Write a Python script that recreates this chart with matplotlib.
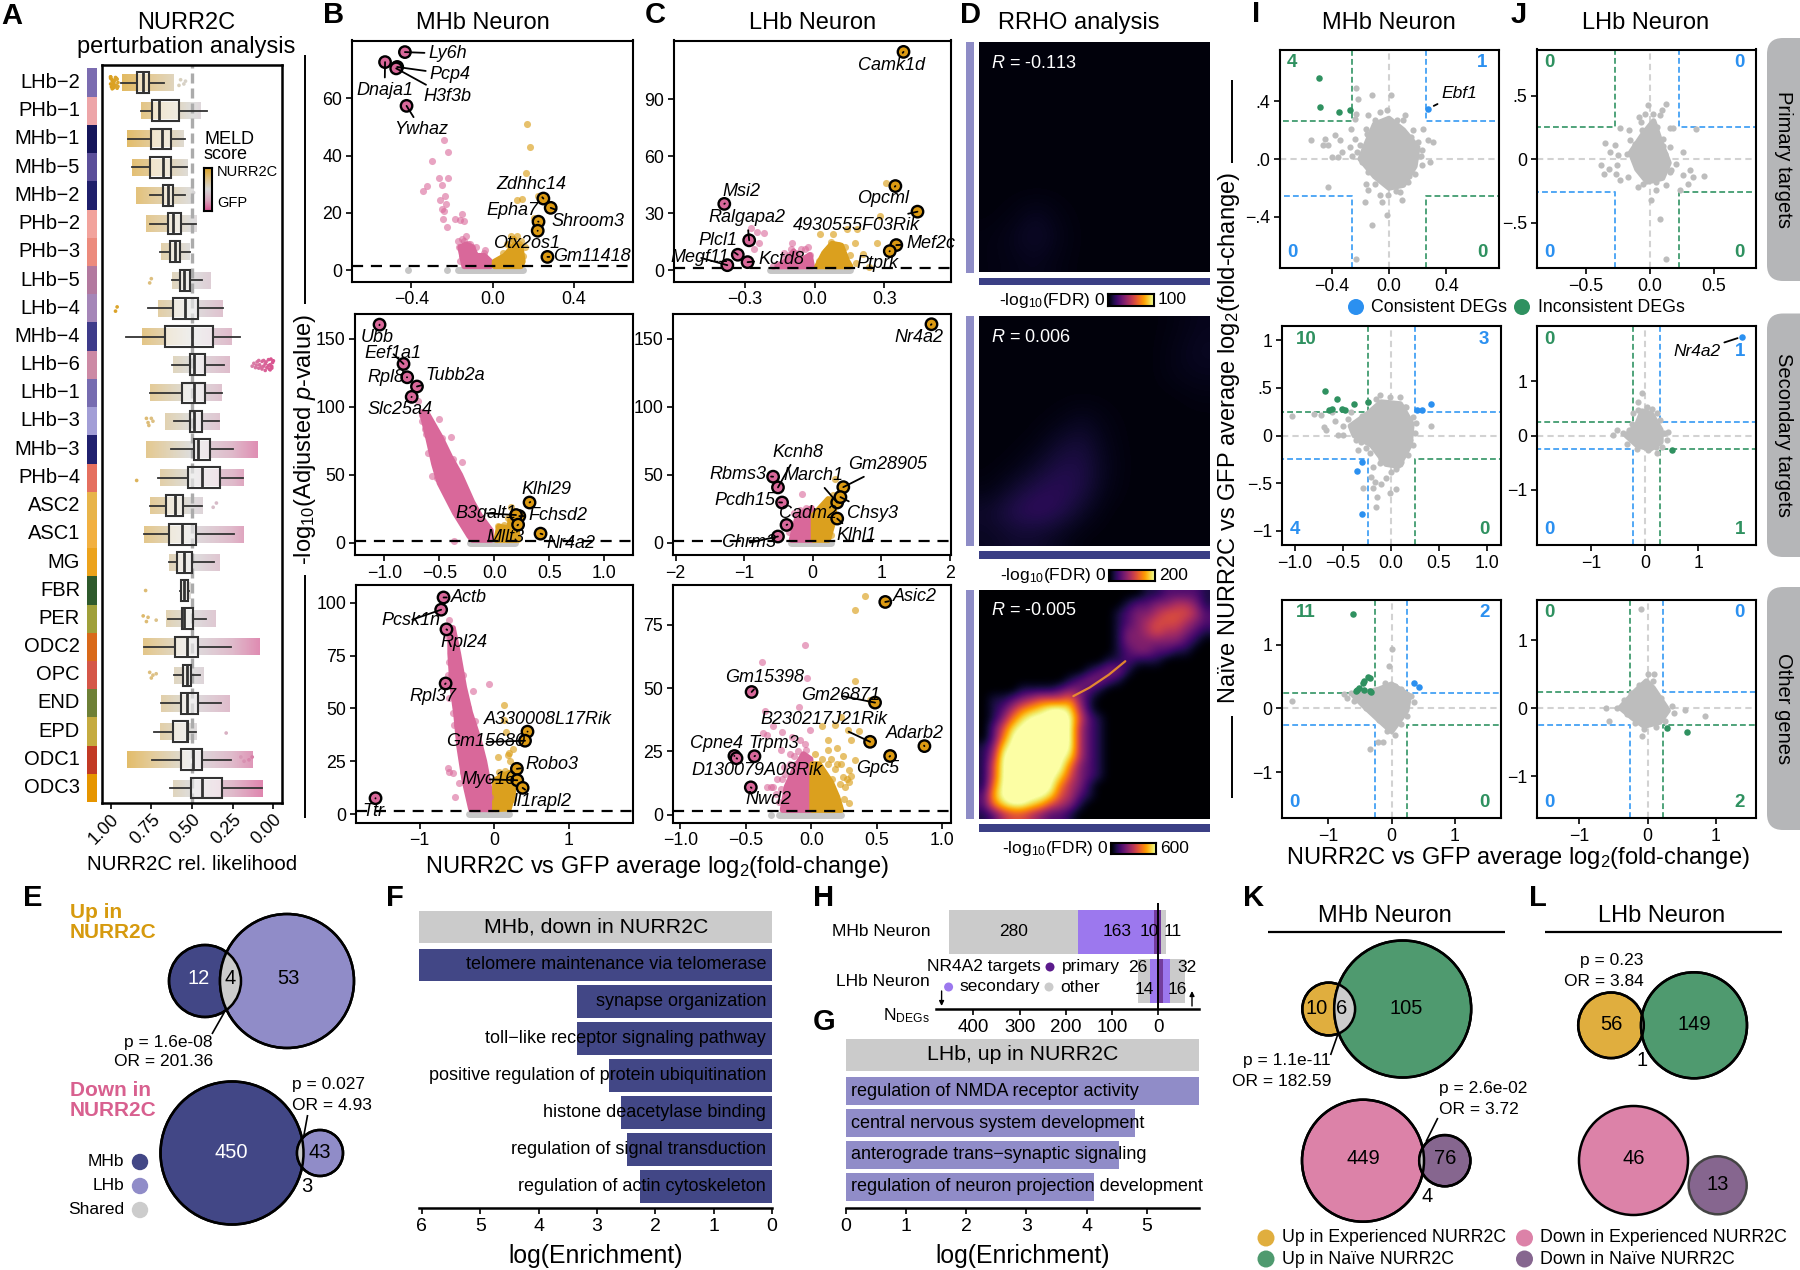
import numpy as np
import matplotlib
matplotlib.use('Agg')
import matplotlib.pyplot as plt
from matplotlib.colors import LinearSegmentedColormap
from matplotlib.patches import Circle, Rectangle, FancyBboxPatch, Polygon

plt.rcParams['font.family'] = ['Liberation Sans', 'DejaVu Sans']
plt.rcParams['mathtext.fontset'] = 'custom'
plt.rcParams['mathtext.rm'] = 'Liberation Sans'
plt.rcParams['mathtext.it'] = 'Liberation Sans:italic'
plt.rcParams['mathtext.bf'] = 'Liberation Sans:bold'
plt.rcParams['axes.linewidth'] = 1.5

# ------------------ DATA: panel A ------------------
a_types = ['LHb−2','PHb−1','MHb−1','MHb−5','MHb−2','PHb−2','PHb−3','LHb−5','LHb−4','MHb−4','LHb−6','LHb−1','LHb−3',
           'MHb−3','PHb−4','ASC2','ASC1','MG','FBR','PER','ODC2','OPC','END','EPD','ODC1','ODC3']
a_colors = ['#7b6cb0','#eda5a8','#15155a','#5b4f9a','#1f1f6b','#f2a39c','#ec8b7d','#b2799f','#a586b8','#3e3b8a','#cc8aa5',
            '#766cb0','#a29ed6','#20206e','#e5705f','#e8b44a','#f2b040','#eca31c','#2f5a2c','#a0a03a','#d9691a','#d55748',
            '#6e8036','#c5ab40','#c23a24','#e69500']
a_q1  = [.839,.743,.753,.759,.678,.647,.633,.573,.614,.667,.510,.563,.514,.490,.522,.657,.641,.592,.567,.561,.602,.555,.565,.618,.565,.504]
a_med = [.804,.702,.684,.678,.647,.618,.606,.549,.541,.498,.490,.488,.488,.461,.439,.606,.561,.547,.549,.549,.533,.533,.531,.529,.492,.437]
a_q3  = [.765,.580,.631,.631,.618,.567,.576,.514,.465,.371,.418,.420,.439,.392,.331,.557,.478,.498,.527,.496,.461,.504,.461,.524,.437,.316]
a_wlo = [.939,.816,.896,.869,.755,.761,.698,.624,.769,.908,.620,.755,.612,.631,.710,.757,.792,.643,.576,.647,.792,.612,.688,.733,.747,.633]
a_whi = [.671,.406,.543,.529,.543,.473,.510,.439,.310,.208,.302,.314,.335,.251,.186,.439,.243,.367,.518,.412,.263,.449,.324,.473,.259,.069]
a_clo = [.93,.816,.898,.869,.845,.784,.688,.624,.708,.810,.616,.755,.665,.780,.698,.757,.792,.643,.576,.657,.800,.612,.688,.698,.898,.616]
a_chi = [.616,.453,.549,.529,.494,.473,.510,.388,.310,.259,.269,.314,.331,.094,.186,.433,.178,.335,.514,.351,.086,.433,.265,.473,.127,.065]
a_sparse_row = [0]*22 + [10]*27 + [8,8,7,7,12,12,12,12,12,14,19,19,19,19,21,21,21,21,18,23,24,24,24,24,4,4,15,15,0,0,0,0]
a_sparse_x = [1.0,.99,.98,.97,.96,1.0,.985,.965,.975,.99,.955,1.0,.995,.985,.975,.965,.96,.97,.98,.99,1.0,.955,
              .13,.12,.11,.1,.09,.085,.07,.06,.05,.045,.04,.03,.025,.02,.015,.01,.005,0.,.09,.07,.05,.03,.02,.01,.06,.105,.075,
              .97,.96,.76,.75,.78,.77,.765,.75,.74,.84,.80,.78,.77,.72,.76,.75,.74,.72,.785,.29,.2,.18,.15,.13,.50,.49,.37,.35,.58,.57,.55,.54]
a_sparse_dy = [-.2,-.1,0,.1,.2,.05,.18,-.15,.12,-.05,.0,-.15,.15,.08,-.08,.1,-.12,-.18,.18,.22,-.2,.14,
               .05,-.05,.1,-.1,.12,0,-.12,.05,.2,-.1,.1,-.18,.15,0,-.2,.12,-.08,-.14,-.15,.15,-.03,.03,.18,.06,-.15,.02,.08,
               .1,-.05,.1,-.05,-.1,.05,.15,-.1,0,.1,-.1,.1,-.05,.05,-.1,.1,0,-.05,0,.05,-.1,.05,0,-.1,.1,-.1,.05,-.1,.1,-.1,.05,-.05]

# ------------------ DATA: volcano panels ------------------
b1_genes = ['Ly6h','Dnaja1','Pcp4','H3f3b','Ywhaz','Zdhhc14','Shroom3','Epha7','Otx2os1','Gm11418']
b1_x = [-.432,-.53,-.47,-.475,-.424,.251,.287,.227,.223,.271]
b1_y = [76.2,72.7,71,70.5,57.4,25,21.75,16.9,13.75,4.6]
b1_px = [-.239,-.219,-.299,-.263,-.221,-.325,-.345,-.247,-.233,-.259,-.229,-.249,-.239,-.183,-.151,-.245,-.159,-.141,-.225,-.17,-.15,-.12,-.1,-.04,
         -.165,-.15,-.13,-.11,-.08,-.05,-.09,-.16,-.035,-.14]
b1_py = [45.6,41.4,38.1,32.25,32.25,29.4,27.75,29.6,26,24.4,23.1,21.25,20.6,17.75,19.6,17.9,17.5,17.1,15,10,11,9,8,6,
         8,5,12,9,8,5,4,3,7,10]
b1_gx = [.169,.187,.163,.122,.147,.223,.207,.12,.14,.08,.1,.05,.07,.1,.13,.15,.16,.09]
b1_gy = [51.1,43,34,24.4,24.75,26,18.1,12,10,9,11,6,9,11,9,5,8,12]
b1_pink_poly = [(-.16,8),(-.13,9),(-.1,8),(-.08,5),(-.04,5),(-.01,3),(-.01,1.3),(-.14,1.3)]
b1_gold_poly = [(.01,1.3),(.01,3),(.06,5),(.11,9),(.14,8),(.15,3),(.14,1.3)]
b1_gray = [-.17,.15]; b1_gray_x = [-.416,-.223]

b2_genes = ['Ubb','Eef1a1','Rpl8','Tubb2a','Slc25a4','Klhl29','Fchsd2','B3galt1','Mllt3','Nr4a2']
b2_x = [-1.044,-.826,-.793,-.704,-.752,.319,.226,.196,.215,.419]
b2_y = [160.5,131.6,121.8,115,107.4,29.7,19.7,20.5,13.4,6.8]
b2_px = [-.396,-.504,-.296,-.563,-.37,-.693,-.655,-.63,-.58,-.55,-.5,-.6,-.55,-.45,-.4,-.52,-.35,-.66,-.62,
         -.66,-.6,-.52,-.47,-.5,-.42,-.45,-.35,-.3,-.28,-.22,-.25,-.14,-.18,-.58,-.48,-.38,-.31]
b2_py = [77.9,91,59.5,49.5,1.3,104,90,84,78,70,65,66,60,55,50,48,40,94,80,
         96,88,72,62,54,45,38,33,28,40,25,14,16,8,72,77,62,46]
b2_gx = [.152,.03,.17,.12,.06,.09,.14,.2]
b2_gy = [26.3,12.6,22,18,11,13,17,10]
b2_pink_poly = [(-.66,96),(-.6,76),(-.55,58),(-.5,44),(-.36,22),(-.23,5),(-.2,2.1),(-.03,2.1),(-.03,9),(-.13,20),(-.2,30),(-.31,50),(-.4,63),(-.49,78),(-.61,95)]
b2_gold_poly = [(.015,2.1),(.04,12),(.13,11),(.16,21),(.17,22),(.2,11),(.22,2.1)]
b2_gray = [-.22,.19]; b2_gray_x = []

b3_genes = ['Actb','Pcsk1n','Rpl24','Rpl37','A330008L17Rik','Gm15680','Robo3','Myo16','Il1rapl2','Ttr']
b3_x = [-.678,-.71,-.639,-.65,.448,.415,.306,.311,.383,-1.59]
b3_y = [102.5,96.7,87.4,61.8,39,34.7,21.4,16,12.4,7.5]
b3_px = [-.607,-.56,-.56,-.52,-.5,-.58,-.42,-.071,-.284,-.525,-.617,-.552,-.47,-.35,-.3,-.6,-.54,-.47,-.38,-.25,-.2,
         -.62,-.58,-.6,-.55,-.62,-.5,-.6,-.47,-.55,-.37,-.5,-.32,-.47,-.27,-.44,-.22,-.42,-.15,-.37,-.1,-.3,-.06]
b3_py = [92,88,76,72,66,66,66,61.5,58,8.3,21.9,19.5,14.5,50,30,20,42,60,53,44,30,
         84,80,72,68,66,60,55,52,48,46,42,40,35,33,28,28,20,20,12,14,6,8]
b3_gx = [.137,.131,.164,.049,.2,.25,.22,.18,.28,.1,.06,.3,.26,.15]
b3_gy = [51.7,44.7,38.7,27,29,31,25,28,23,19,20,14,7,20.5]
b3_pink_poly = [(-.59,88),(-.59,76),(-.56,60),(-.51,47),(-.47,32),(-.4,16),(-.31,2.2),(-.01,2.2),(-.05,10),(-.13,25),(-.21,36),(-.32,48),(-.4,60),(-.48,76),(-.55,88)]
b3_gold_poly = [(.01,2.2),(.01,16),(.1,18),(.24,20),(.26,10),(.2,2.5)]
b3_gray = [-.34,.2]; b3_gray_x = []

c1_genes = ['Camk1d','Opcml','Msi2','Ralgapa2','Plcl1','Megf11','Kctd8','4930555F03Rik','Mef2c','Ptprk']
c1_x = [.382,.347,-.388,-.281,-.33,-.375,-.288,.442,.351,.323]
c1_y = [115,44.3,34.9,15.7,8.1,2.6,4.2,30.8,13.2,10]
c1_px = [-.275,-.246,-.216,-.239,-.098,-.028,-.26,-.06,-.13,-.16,-.13,-.1,-.11,-.07,-.04,-.02,-.18]
c1_py = [22,20.2,19.8,14.2,14.2,12.3,11.3,11,9,3,6,11,8,9,11,8,2]
c1_gx = [.305,.282,.267,.025,.081,.139,.182,.174,.209,.235,.02,.05,.07,.1,.13,.15,.18]
c1_gy = [45.8,28.5,14.5,18.9,18.9,21.7,21.7,14.2,8.5,1.9,5,10,15,13,12,8,4]
c1_pink_poly = [(-.16,1.9),(-.12,5),(-.09,10),(-.06,5),(-.02,8),(-.01,1.9)]
c1_gold_poly = [(.01,1.9),(.04,9),(.075,14),(.115,13),(.14,5),(.155,1.9)]
c1_gray = [-.19,.15]; c1_gray_x = []

c2_genes = ['Nr4a2','Kcnh8','Rbms3','March1','Gm28905','Pcdh15','Cadm2','Chsy3','Klhl1','Chrm3']
c2_x = [1.735,-.507,-.578,.358,.447,-.447,-.382,.405,.358,-.507]
c2_y = [160.8,40.8,48.7,29.7,41,29.7,13.2,33.7,17.9,4.7]
c2_px = [-.149,-.33,-.28,-.25,-.34,-.32,-.18,-.1]
c2_py = [36,15,22,12,8,12,24,26]
c2_gx = [.328,.3,.25,.35,.3,.33,.27]
c2_gy = [46.8,35,30,28,25,18,6]
c2_pink_poly = [(-.31,2.1),(-.22,20.5),(-.012,25.8),(-.012,2.1)]
c2_gold_poly = [(.012,2.1),(.012,20.5),(.227,32.4),(.316,31),(.316,17.9),(.227,2.1)]
c2_gray = [-.31,.27]; c2_gray_x = []

c3_genes = ['Asic2','Gm15398','Gm26871','B230217J21Rik','Adarb2','Gpc5','Cpne4','Trpm3','D130079A08Rik','Nwd2']
c3_x = [.565,-.456,.487,.449,.864,.602,-.587,-.434,-.571,-.462]
c3_y = [84.1,48.5,44.3,28.8,27.1,23.2,23.2,23.1,22.3,10.8]
c3_px = [-.05,-.374,-.031,-.097,-.368,-.337,-.29,-.222,-.228,-.134,-.306,-.337,-.041,-.009,-.353,-.15,-.087,
         -.25,-.23,-.2,-.16,-.1,-.05,-.27,-.29,-.22,-.17,-.12,-.26,-.21,-.16]
c3_py = [67.1,60.4,54.2,42.5,32.2,31.6,34.9,32.5,25.6,23,11.1,11.1,25.6,33.6,40.8,30.9,29.6,
         5,10,16,20,25,28,8,11,14,12,20,14,19,24]
c3_gx = [.412,.337,.337,.449,.084,.125,.125,.193,.24,.303,.334,.225,.178,.281,.365,.287,.303,.287,.209,.069,
         .03,.08,.13,.18,.22,.25,.24,.15,.2,.27,.23,.26,.29,.16]
c3_gy = [86.4,81.1,52.7,45.4,34.9,29.6,25.6,26.3,23,29.6,21.7,38.8,35.5,33.6,32.9,17.7,15.1,4.5,3.2,15.1,
         24,22,20,18,12,6,15,22,20,14,20,11,13,14]
c3_pink_poly = [(-.22,1.8),(-.19,11),(-.13,18),(-.06,24),(-.005,22),(-.005,1.8)]
c3_gold_poly = [(.006,1.8),(.006,20),(.06,20),(.15,13),(.2,7),(.23,1.8)]
c3_gray = [-.25,.23]; c3_gray_x = [-.306]

# ------------------ DATA: RRHO grids ------------------
d1_grid = [[.02]*10 for _ in range(7)] + [
    [.02,.03,.06,.03,.02,.02,.02,.02,.02,.02],
    [.03,.05,.08,.04,.02,.02,.02,.02,.02,.02],
    [.03,.04,.05,.03,.02,.02,.02,.02,.02,.02]]
d2_grid = [
    [.02,.02,.02,.02,.02,.02,.02,.02,.03,.05],
    [.02,.02,.02,.02,.02,.02,.02,.02,.04,.06],
    [.02,.02,.02,.02,.02,.02,.02,.02,.04,.05],
    [.02,.02,.02,.02,.02,.02,.02,.02,.02,.03],
    [.02,.02,.02,.03,.06,.03,.02,.02,.02,.02],
    [.02,.02,.03,.08,.10,.04,.02,.02,.02,.02],
    [.02,.03,.07,.12,.12,.05,.02,.02,.02,.02],
    [.03,.08,.13,.15,.12,.04,.02,.02,.02,.02],
    [.08,.14,.17,.14,.07,.02,.02,.02,.02,.02],
    [.06,.08,.08,.05,.02,.02,.02,.02,.02,.02]]
d3_rows = ['000000000000000001122221','000000000000000122334431','000000000000001233455542','000000000000001234555432',
           '000000000000001334544321','000000000000001333333210','000000000000001233221100','000000000000011211100000',
           '000000000001233100000000','000000000123321000000000','000011112332100000000000','011234555631',
           '012467899841','0136899999521','0258999999421','0269999999421','1389999999421','1499999998421',
           '1599999996321','1599999985321','1699999964310','279999985421','26899875431','12455432210']
d3_ridge_c = [9.3, 11.0, 13.0, 14.7]
d3_ridge_r = [10.65, 9.75, 8.4, 7.0]

# ------------------ DATA: I/J scatter ------------------
i1_poly = [(-.16,.1),(-.1,.24),(0,.28),(.1,.2),(.2,.08),(.18,-.05),(.1,-.18),(0,-.2),(-.1,-.12),(-.2,0)]
i1_dots = [(-.063,.325),(-.012,.341),(.053,.267),(.111,.302),(.169,.198),(.234,.21),(.274,.129),(.304,.118),(.227,.06),(.285,-.021),
           (.227,-.044),(.181,-.101),(.135,-.159),(.077,-.228),(.088,-.286),(-.005,-.251),(-.063,-.251),(-.051,-.297),(-.167,-.297),
           (-.144,-.217),(-.16,-.17),(-.144,-.09),(-.19,-.021),(-.26,.018),(-.329,.048),(-.399,.014),(-.353,.014),(-.271,.083),(-.237,.141),
           (-.267,.205),(-.16,.21),(-.144,.302),(-.237,.279),(-.23,.309),(-.341,.129),(-.376,.164),(-.445,.141),(-.457,.094),(-.427,.094),
           (-.545,.129),(-.427,-.194),(-.121,-.459),(-.012,-.389),(-.23,-.689),(-.121,.445),(.012,.445),(-.213,.417),(-.23,.491),
           (.15,.15),(.2,.12),(.1,.27),(-.1,.27),(-.2,.1),(-.22,.05),(-.1,-.17),(.05,-.22),(.14,-.12),(.22,.02),(-.15,.17)]
i1_green = [(-.49,.563),(-.483,.36),(-.347,.322),(-.27,.338)]
i1_blue = [(.268,.346)]
j1_poly = [(-.15,.05),(-.05,.2),(.03,.3),(.08,.15),(.15,-.03),(.1,-.15),(-.02,-.18),(-.1,-.08)]
j1_dots = [(-.013,.423),(.130,.436),(.096,.388),(-.039,.357),(.026,.357),(.078,.344),(-.083,.331),(-.065,.291),(.156,.246),(.182,.246),
           (.365,.239),(-.234,.246),(-.164,.231),(.104,.160),(.156,.094),(.260,.055),(.117,.042),(.208,-.037),(.169,-.089),(.313,-.089),
           (.260,-.129),(.339,-.142),(.424,-.134),(.299,-.194),(.234,-.241),(.130,-.207),(.052,-.247),(.013,-.325),(.083,-.472),(.130,-.787),
           (-.091,-.220),(-.169,-.142),(-.234,-.168),(-.260,-.115),(-.253,-.050),(-.318,-.076),(-.378,-.044),(-.357,-.115),(-.247,.029),
           (-.352,.129),(-.268,.108),(-.313,.055),(-.156,.147),(-.057,.226),(-.117,.121),(.06,.25),(.1,.1),(-.18,.04),(.16,-.1),(-.05,-.2),(.05,-.18)]
j1_green = []; j1_blue = []
i2_poly = [(-.42,.1),(-.25,.22),(-.1,.35),(.1,.33),(.22,.12),(.2,-.1),(.08,-.32),(-.05,-.3),(-.2,-.1),(-.38,0)]
i2_dots = [(-.114,.422),(-.010,.405),(.100,.405),(.163,.300),(.232,.195),(.267,.126),(.423,.098),(.249,.021),(.232,-.101),(.180,-.206),
           (.111,-.276),(.059,-.346),(.007,-.380),(-.045,-.450),(-.097,-.503),(-.166,-.485),(-.201,-.433),(.059,-.562),(-.010,-.607),
           (-.139,-.649),(-.156,-.747),(-.288,-.545),(-.184,-.555),(-.340,-.147),(-.253,-.136),(-.357,-.049),(-.495,.003),(-.547,.003),
           (-.669,.056),(-.700,.091),(-.804,.223),(-1.03,.206),(-.728,.213),(-.607,.248),(-.409,.248),(-.236,.352),(-.149,.387),(-.305,-.066),
           (-.218,-.188),(-.114,-.293),(-.184,-.328),(-.5,.1),(-.45,.17),(-.58,.15),(-.3,.2),(.15,.3),(.2,-.05),(.1,-.3),(-.1,-.25)]
i2_green = [(-.68,.47),(-.56,.38),(-.64,.265),(-.61,.28),(-.51,.275),(-.48,.265),(-.38,.335),(-.24,.35)]
i2_blue = [(.42,.335),(.276,.265),(.32,.265),(-.3,-.276),(-.355,-.376),(-.3,-.82)]
j2_poly = [(-.35,0),(-.15,.2),(-.05,.45),(.12,.4),(.3,.1),(.3,-.12),(.1,-.25),(-.15,-.18)]
j2_dots = [(-.063,.793),(-.125,.621),(-.138,.467),(.031,.529),(.125,.498),(.219,.406),(.281,.283),(.438,.068),(.406,-.086),(.313,-.209),
           (.219,-.32),(.063,-.271),(-.156,-.240),(-.344,-.148),(-.406,.037),(-.531,.098),(-.594,.006),(-.25,.221),(-.219,.406),(-.3,.1),(.35,.05),(.2,-.22)]
j2_green = [(.5,-.26)]; j2_blue = [(1.81,1.82)]
i3_poly = [(-.6,.2),(-.2,.3),(0,.38),(.28,.2),(.24,-.03),(0,-.36),(-.18,-.2),(-.45,.05)]
i3_dots = [(-1.58,.115),(-.04,.67),(0,.93),(-.21,-.52),(-.34,-.63),(-.13,-.52),(-.75,.22),(-.65,.25),(-.55,.2),(-.45,.15),(-.35,.28),(-.1,.4),
           (.05,.35),(.15,.3),(.3,.2),(.35,.1),(.25,-.12),(.15,-.25),(.05,-.42),(-.08,-.35),(-.2,-.18),(-.4,0),(-.6,.12),(-.7,.17)]
i3_green = [(-.61,1.48),(-.38,.49),(-.43,.43),(-.34,.475),(-.45,.405),(-.56,.27),(-.51,.32),(-.43,.29),(-.34,.27),(-.32,.255),(-.54,.29)]
i3_blue = [(.36,.4),(.44,.335)]
j3_poly = [(-.4,.01),(-.18,.25),(-.02,.4),(.08,.3),(.3,-.03),(.18,-.2),(-.05,-.26),(-.22,-.14)]
j3_dots = [(-.1,1.455),(-.57,-.18),(-.61,.01),(.1,.5),(.84,-.115),(.54,-.03),(-.08,-.4),(-.45,0),(-.35,.12),(-.25,.22),(-.12,.35),(0,.5),(.08,.4),
           (.2,.15),(.35,.03),(.38,-.07),(.25,-.18),(.12,-.28),(-.05,-.3),(-.18,-.22),(-.3,-.08)]
j3_green = [(.285,-.29),(.58,-.35)]; j3_blue = []

# ------------------ DATA: enrichment + counts ------------------
f_terms = ['telomere maintenance via telomerase','synapse organization','toll−like receptor signaling pathway',
           'positive regulation of protein ubiquitination','histone deacetylase binding','regulation of signal transduction',
           'regulation of actin cytoskeleton']
f_values = [6.05,3.35,3.35,2.8,2.58,2.48,2.27]
g_terms = ['regulation of NMDA receptor activity','central nervous system development','anterograde trans−synaptic signaling',
           'regulation of neuron projection development']
g_values = [5.87,4.8,4.54,4.13]
h_groups = ['MHb Neuron','LHb Neuron']
h_left_primary = [10,4];  h_left_secondary = [163,14]; h_left_other = [280,26]
h_right_primary = [5,10]; h_right_secondary = [0,16];  h_right_other = [11,32]

# ------------------ layout helpers ------------------
W, H = 1800, 1270
fig = plt.figure(figsize=(18, 12.7), dpi=100)

def box_ax(x0, y0, x1, y1, **kw):
    return fig.add_axes([x0/W, 1-y1/H, (x1-x0)/W, (y1-y0)/H], **kw)

ov = fig.add_axes([0, 0, 1, 1], zorder=20)
ov.set_xlim(0, W); ov.set_ylim(H, 0); ov.axis('off'); ov.patch.set_alpha(0)

def T(x, y, s, size=12.5, ha='center', va='center', **kw):
    return ov.text(x, y, s, fontsize=size, ha=ha, va=va, **kw)

def L(x0, y0, x1, y1, lw=1.4, color='black', **kw):
    ov.plot([x0, x1], [y0, y1], color=color, lw=lw, solid_capstyle='butt', **kw)

PINK, GOLD, GRAY = '#D9689A', '#DBA01E', '#C6C6C6'
for s, x, y in [('A',12,16),('B',334,15),('C',655,15),('D',970,15),('I',1256,14),('J',1519,15),
                ('E',33,898),('F',395,898),('H',824,898),('G',824,1022),('K',1254,898),('L',1538,898)]:
    T(x, y, s, size=21, fontweight='bold')

# ------------------ Panel A ------------------
meld = LinearSegmentedColormap.from_list('meld', ['#D9528F', '#D8A9BE', '#D6D6D6', '#DDBF80', '#DBA01E'])
ax = box_ax(102, 64.5, 282, 803)
rows = np.arange(len(a_types))
for r, lo, hi in zip(rows, a_clo, a_chi):
    ax.imshow(np.linspace(hi, lo, 128)[None, :], extent=[hi, lo, r+.3, r-.3], cmap=meld, vmin=0, vmax=1,
              aspect='auto', alpha=.8, interpolation='bilinear', zorder=1)
ax.scatter(a_sparse_x, np.array(a_sparse_row)+np.array(a_sparse_dy), c=a_sparse_x, cmap=meld, vmin=0, vmax=1, s=7, linewidths=0, zorder=1)
ax.axvline(.5, color='#ABABAB', lw=2.4, dashes=(3, 1.5), zorder=2)
stats = [dict(q1=a, med=b, q3=c, whislo=d, whishi=e, fliers=[], label=n)
         for a, b, c, d, e, n in zip(a_q1, a_med, a_q3, a_wlo, a_whi, a_types)]
ax.bxp(stats, positions=rows, widths=.74, orientation='horizontal', patch_artist=True, showfliers=False, showcaps=False,
       manage_ticks=False, boxprops=dict(facecolor=(1, 1, 1, .5), edgecolor='#333333', lw=1.5),
       medianprops=dict(color='#333333', lw=2), whiskerprops=dict(color='#333333', lw=1.3), zorder=3)
ax.set_xlim(1.053, -.053); ax.set_ylim(25.53, -.64)
ax.set_xticks([1, .75, .5, .25, 0]); ax.set_xticklabels(['1.00', '0.75', '0.50', '0.25', '0.00'], rotation=45, ha='right',
                                                        rotation_mode='anchor', fontsize=13)
ax.set_yticks([]); ax.tick_params(axis='x', length=4, width=1.2, pad=2)
for sp in ax.spines.values(): sp.set_linewidth(1.8)
strip = box_ax(87, 64.5, 97, 803)
strip.barh(rows, [1]*len(rows), height=1, color=a_colors, left=0)
strip.set_ylim(25.53, -.64); strip.set_xlim(0, 1); strip.axis('off')
for r, n in zip(rows, a_types):
    T(80, 82.6+28.2*r, n, size=14.5, ha='right')
T(186, 23, 'NURR2C', size=17); T(186, 47, 'perturbation analysis', size=17)
T(192, 865, 'NURR2C rel. likelihood', size=14.8)
T(204, 139, 'MELD', size=13, ha='left'); T(204, 154.5, 'score', size=13, ha='left')
T(217, 172, 'NURR2C', size=10.5, ha='left'); T(217, 203, 'GFP', size=10.5, ha='left')
cb = box_ax(204, 167.5, 212, 210.7)
cb.imshow(np.linspace(1, 0, 128)[:, None], cmap=meld, aspect='auto'); cb.set_xticks([]); cb.set_yticks([])

# ------------------ Panels B, C ------------------
def volcano(box, xlim, ylim, xt, xtl, yt, genes, gx, gy, lab_pos, px, py, ax_g, ay_g, ppoly, gpoly, gray, grayx):
    ax = box_ax(*box)
    ax.plot(gray, [0, 0], color=GRAY, lw=5, solid_capstyle='round', zorder=1)
    if grayx:
        ax.scatter(grayx, [0]*len(grayx), s=25, color=GRAY, zorder=1, linewidths=0)
    ax.add_patch(Polygon(ppoly, closed=True, fc=PINK, ec=PINK, lw=4, joinstyle='round', zorder=2))
    ax.add_patch(Polygon(gpoly, closed=True, fc=GOLD, ec=GOLD, lw=4, joinstyle='round', zorder=2))
    ax.scatter(px, py, s=26, color=PINK, alpha=.6, linewidths=0, zorder=3)
    ax.scatter(ax_g, ay_g, s=26, color=GOLD, alpha=.65, linewidths=0, zorder=3)
    ax.axhline(1.3, color='black', lw=1.6, dashes=(5, 3.5), zorder=4)
    cols = [PINK if v < 0 else '#DC9A12' for v in gx]
    ax.scatter(gx, gy, s=68, c=cols, edgecolors='black', linewidths=1.7, zorder=5)
    for n, x, y, (tx, ty, ha) in zip(genes, gx, gy, lab_pos):
        ax.annotate(n, xy=(x, y), xytext=(tx, ty), ha=ha, va='center', fontsize=13, style='italic', zorder=6,
                    annotation_clip=False,
                    arrowprops=dict(arrowstyle='-', lw=1.3, color='black', shrinkA=1, shrinkB=0))
    ax.set_xlim(*xlim); ax.set_ylim(*ylim)
    ax.set_xticks(xt); ax.set_xticklabels(xtl); ax.set_yticks(yt)
    ax.tick_params(labelsize=12.8, length=4, width=1.2, pad=3)
    return ax

volcano((352,40.5,633,281.5), (-.693,.693), (-4,80.25), [-.4,0,.4], ['−0.4','0.0','0.4'], [0,20,40,60],
        b1_genes, b1_x, b1_y,
        [(-.315,75.6,'left'),(-.532,62.9,'center'),(-.309,68.4,'left'),(-.339,60.6,'left'),(-.351,49.1,'center'),
         (.193,29.75,'center'),(.291,16.9,'left'),(.096,20.9,'center'),(.167,9.4,'center'),(.301,4.6,'left')],
        b1_px, b1_py, b1_gx, b1_gy, b1_pink_poly, b1_gold_poly, b1_gray, b1_gray_x)
volcano((355,313.5,633,555), (-1.267,1.259), (-8.9,168.7), [-1,-.5,0,.5,1], ['−1.0','−0.5','0.0','0.5','1.0'], [0,50,100,150],
        b2_genes, b2_x, b2_y,
        [(-1.063,150.8,'center'),(-.926,139.5,'center'),(-.989,121.8,'center'),(-.626,123,'left'),(-.859,98.2,'center'),
         (.474,39,'center'),(.307,20,'left'),(-.081,21.8,'center'),(.096,3.9,'center'),(.696,-.5,'center')],
        b2_px, b2_py, b2_gx, b2_gy, b2_pink_poly, b2_gold_poly, b2_gray, b2_gray_x)
volcano((356,585,633,822.5), (-1.852,1.863), (-4,108.4), [-1,0,1], ['−1','0','1'], [0,25,50,75,100],
        b3_genes, b3_x, b3_y,
        [(-.579,102.5,'left'),(-1.115,91.8,'center'),(-.41,81.4,'center'),(-.814,55.7,'center'),(.721,44.7,'center'),
         (-.115,34.1,'center'),(.415,23.4,'left'),(-.077,16.4,'center'),(.639,5.8,'center'),(-1.617,1.4,'center')],
        b3_px, b3_py, b3_gx, b3_gy, b3_pink_poly, b3_gold_poly, b3_gray, b3_gray_x)
volcano((674,40.5,951,281.5), (-.604,.586), (-6,121), [-.3,0,.3], ['−0.3','0.0','0.3'], [0,30,60,90],
        c1_genes, c1_x, c1_y,
        [(.332,108,'center'),(.296,37.5,'center'),(-.316,41.5,'center'),(-.291,27.7,'center'),(-.414,15.7,'center'),
         (-.493,6.6,'center'),(-.242,5.7,'left'),(.179,23.6,'center'),(.393,13.8,'left'),(.27,3.4,'center')],
        c1_px, c1_py, c1_gx, c1_gy, c1_pink_poly, c1_gold_poly, c1_gray, c1_gray_x)
volcano((673,313.5,951,555), (-2.04,2.02), (-8.9,168.7), [-2,-1,0,1,2], ['−2','−1','0','1','2'], [0,50,100,150],
        c2_genes, c2_x, c2_y,
        [(1.556,151.3,'center'),(-.221,66.6,'center'),(-1.085,50,'center'),(.018,49.5,'center'),(1.091,57.4,'center'),
         (-.996,31,'center'),(-.072,21.8,'center'),(.495,21.8,'left'),(.632,5.5,'center'),(-.936,0,'center')],
        c2_px, c2_py, c2_gx, c2_gy, c2_pink_poly, c2_gold_poly, c2_gray, c2_gray_x)
volcano((672.5,585,951,822.5), (-1.06,1.067), (-3.1,90.8), [-1,-.5,0,.5,1], ['−1.0','−0.5','0.0','0.5','1.0'], [0,25,50,75],
        c3_genes, c3_x, c3_y,
        [(.624,86.4,'left'),(-.353,54.4,'center'),(.225,47,'center'),(.094,37.5,'center'),(.793,32.2,'center'),
         (.505,18.1,'center'),(-.727,28,'center'),(-.284,28,'center'),(-.415,17.4,'center'),(-.331,5.8,'center')],
        c3_px, c3_py, c3_gx, c3_gy, c3_pink_poly, c3_gold_poly, c3_gray, c3_gray_x)

T(483, 23, 'MHb Neuron', size=17); T(813, 23, 'LHb Neuron', size=17)
T(657, 867, 'NURR2C vs GFP average log$_2$(fold-change)', size=17)
T(305, 439, r'-log$_{10}$(Adjusted $\it{p}$-value)', size=17, rotation=90)
L(305, 55, 305, 304); L(305, 575, 305, 818)

# ------------------ Panel D ------------------
d3_grid = [[int(c) for c in row.ljust(24, '0')] for row in d3_rows]
d_boxes = [(979,42,1210,272.5),(979,316,1210,546),(979,589.5,1210,819)]
d_data = [(d1_grid,1.0),(d2_grid,1.0),(d3_grid,8.6)]
d_r = ['-0.113','0.006','-0.005']
d_max = ['100','200','600']
d_cb = [(1108,294.4,1154,305.6),(1109,570,1155,580.5),(1111,843,1156,854)]
for i, (box, (g, vm), r, mx, cbx) in enumerate(zip(d_boxes, d_data, d_r, d_max, d_cb)):
    a = box_ax(*box)
    a.imshow(np.array(g, float), cmap='inferno', vmin=0, vmax=vm, aspect='auto', interpolation='bicubic')
    if i == 2:
        a.plot(d3_ridge_c, d3_ridge_r, color='#F2952B', lw=1.6, alpha=.9, solid_capstyle='round')
    a.axis('off')
    ov.add_patch(Rectangle((966, box[1]), 7.5, box[3]-box[1], fc='#8E8CC6', ec='none'))
    ov.add_patch(Rectangle((box[0], box[3]+5), box[2]-box[0], 7.5, fc='#3B3F85', ec='none'))
    T(991, box[1]+21, r'$\it{R}$ = '+r, size=13, color='white', ha='left')
    c = box_ax(*cbx)
    c.imshow(np.linspace(0, 1, 128)[None, :], cmap='inferno', aspect='auto'); c.set_xticks([]); c.set_yticks([])
    T(cbx[0]-3, (cbx[1]+cbx[3])/2, '-log$_{10}$(FDR) 0', size=12.5, ha='right')
    T(cbx[2]+4, (cbx[1]+cbx[3])/2, mx, size=12.5, ha='left')
T(1079, 23, 'RRHO analysis', size=17)

# ------------------ Panels I, J ------------------
BLUE, GREEN = '#2B90F0', '#2F9160'
def quad(box, xlim, ylim, xt, xtl, yt, ytl, th, poly, dots, green, blue, counts):
    ax = box_ax(*box)
    xl, xr, yb, yt_ = th
    ax.axhline(0, color='#D2D2D2', lw=1.5, dashes=(3, 2), zorder=1)
    ax.axvline(0, color='#D2D2D2', lw=1.5, dashes=(3, 2), zorder=1)
    kw = dict(lw=1.4, dashes=(3, 1.6), zorder=2)
    ax.plot([xl, xl, xlim[0]], [ylim[1], yt_, yt_], color='#4FA37A', **kw)
    ax.plot([xr, xr, xlim[1]], [ylim[0], yb, yb], color='#4FA37A', **kw)
    ax.plot([xr, xr, xlim[1]], [ylim[1], yt_, yt_], color='#52A8F5', **kw)
    ax.plot([xl, xl, xlim[0]], [ylim[0], yb, yb], color='#52A8F5', **kw)
    ax.add_patch(Polygon(poly, closed=True, fc='#BDBDBD', ec='#BDBDBD', lw=4, joinstyle='round', zorder=3))
    ax.scatter(*zip(*dots), s=20, color='#BDBDBD', linewidths=0, zorder=3)
    if green: ax.scatter(*zip(*green), s=22, color=GREEN, linewidths=0, zorder=4)
    if blue: ax.scatter(*zip(*blue), s=22, color=BLUE, linewidths=0, zorder=4)
    ax.set_xlim(*xlim); ax.set_ylim(*ylim)
    ax.set_xticks(xt); ax.set_xticklabels(xtl); ax.set_yticks(yt); ax.set_yticklabels(ytl)
    ax.tick_params(labelsize=12.8, length=4, width=1.2, pad=3)
    tl, tr, bl, br = counts
    bf = dict(fontsize=13.5, fontweight='bold', transform=ax.transAxes, ha='center', va='center')
    ax.text(.11 if len(tl) > 1 else .057, .94, tl, color=GREEN, **bf)
    ax.text(.925, .94, tr, color=BLUE, **bf)
    ax.text(.057, .07, bl, color=BLUE, **bf)
    ax.text(.925, .07, br, color=GREEN, **bf)
    return ax

a = quad((1279.5,49.5,1498.5,268), (-.762,.762), (-.753,.757), [-.4,0,.4], ['−0.4','0.0','0.4'], [-.4,0,.4], ['−.4','.0','.4'],
     (-.26,.257,-.252,.26), i1_poly, i1_dots, i1_green, i1_blue, ('4','1','0','0'))
a.annotate('Ebf1', xy=i1_blue[0], xytext=(.49,.455), ha='center', va='center', fontsize=12.5, style='italic', zorder=6,
           arrowprops=dict(arrowstyle='-', lw=1.3, shrinkA=1, shrinkB=5))
quad((1537,49.5,1756,268), (-.881,.83), (-.858,.863), [-.5,0,.5], ['−0.5','0.0','0.5'], [-.5,0,.5], ['−.5','0','.5'],
     (-.275,.229,-.257,.252), j1_poly, j1_dots, j1_green, j1_blue, ('0','0','0','0'))
quad((1282,326,1500.7,545), (-1.132,1.144), (-1.147,1.147), [-1,-.5,0,.5,1], ['−1.0','−0.5','0.0','0.5','1.0'],
     [-1,-.5,0,.5,1], ['−1','−.5','0','.5','1'], (-.242,.254,-.25,.25), i2_poly, i2_dots, i2_green, i2_blue, ('10','3','4','0'))
a = quad((1537,326,1756,545), (-2.02,2.08), (-2.02,2.02), [-1,0,1], ['−1','0','1'], [-1,0,1], ['−1','0','1'],
     (-.223,.284,-.25,.25), j2_poly, j2_dots, j2_green, j2_blue, ('0','','0','1'))
a.text(.925, .885, '1', color=BLUE, fontsize=13.5, fontweight='bold', transform=a.transAxes, ha='center', va='center')
a.annotate('Nr4a2', xy=j2_blue[0], xytext=(.97,1.55), ha='center', va='center', fontsize=12.5, style='italic', zorder=6,
           arrowprops=dict(arrowstyle='-', lw=1.3, shrinkA=1, shrinkB=3))
quad((1282,599.5,1500.7,818), (-1.735,1.727), (-1.718,1.709), [-1,0,1], ['−1','0','1'], [-1,0,1], ['−1','0','1'],
     (-.256,.239,-.255,.247), i3_poly, i3_dots, i3_green, i3_blue, ('11','2','0','0'))
quad((1537,599.5,1756,818), (-1.62,1.587), (-1.61,1.60), [-1,0,1], ['−1','0','1'], [-1,0,1], ['−1','0','1'],
     (-.262,.23,-.24,.24), j3_poly, j3_dots, j3_green, j3_blue, ('0','0','0','2'))
T(1389, 23, 'MHb Neuron', size=17); T(1646, 23, 'LHb Neuron', size=17)
T(1518, 858, 'NURR2C vs GFP average log$_2$(fold-change)', size=17)
T(1229, 438, 'Naïve NURR2C vs GFP average log$_2$(fold-change)', size=17, rotation=90)
L(1232, 80, 1232, 163); L(1232, 716, 1232, 798)
ov.add_patch(Circle((1356, 307), 8, fc=BLUE, ec='none')); T(1371, 307, 'Consistent DEGs', size=12.8, ha='left')
ov.add_patch(Circle((1522, 307), 8, fc=GREEN, ec='none')); T(1538, 307, 'Inconsistent DEGs', size=12.8, ha='left')
for y0, y1, s in [(38,281,'Primary targets'),(313.5,557,'Secondary targets'),(587,830,'Other genes')]:
    ov.add_patch(FancyBboxPatch((1767, y0), 70, y1-y0, boxstyle='round,pad=0,rounding_size=16', fc='#B5B6B8', ec='none'))
    T(1784, (y0+y1)/2, s, size=14.5, rotation=270)

# ------------------ Venns ------------------
def venn(c1, r1, f1, c2, r2, f2, overlap='#CCCCCC', ec='black'):
    p1 = Circle(c1, r1, fc=f1, ec=ec, lw=1.8); p2 = Circle(c2, r2, fc=f2, ec=ec, lw=1.8)
    ov.add_patch(p1); ov.add_patch(p2)
    lens = Circle(c2, r2, fc=overlap, ec='none'); ov.add_patch(lens); lens.set_clip_path(Circle(c1, r1, transform=ov.transData))
    for c, r in ((c1, r1), (c2, r2)):
        ov.add_patch(Circle(c, r, fc='none', ec=ec, lw=1.8))

MH, LH = '#424786', '#908CC8'
T(70, 912, 'Up in', size=15, ha='left', color='#D69A0E', fontweight='bold')
T(70, 932, 'NURR2C', size=15, ha='left', color='#D69A0E', fontweight='bold')
venn((205,981), 36, MH, (287,981), 67, LH)
T(199, 979, '12', size=14.5, color='white'); T(230.6, 979, '4', size=14.5); T(288, 979, '53', size=14.5)
L(224.5, 1012, 212, 1034, lw=1.2)
T(213, 1042, 'p = 1.6e-08', ha='right'); T(213, 1062, 'OR = 201.36', ha='right')
T(70, 1091, 'Down in', size=15, ha='left', color='#D8608F', fontweight='bold')
T(70, 1111, 'NURR2C', size=15, ha='left', color='#D8608F', fontweight='bold')
venn((232,1153), 71.5, MH, (320,1153), 23, LH)
T(231, 1153, '450', size=14.5, color='white'); T(320, 1153, '43', size=14.5); T(306.6, 1186, '3', size=14.5)
T(292, 1084, 'p = 0.027', ha='left'); T(292, 1105, 'OR = 4.93', ha='left')
L(307.6, 1115, 303.6, 1137, lw=1.2)
for y, n, c in [(1162,'MHb',MH),(1186,'LHb',LH),(1210,'Shared','#CCCCCC')]:
    ov.add_patch(Circle((140, y), 8.2, fc=c, ec='none')); T(124, y, n, ha='right')

UPX, UPN, DNX, DNN = '#E0AE3E', '#4F9A6F', '#DC82A8', '#86668F'
T(1385, 916, 'MHb Neuron', size=17); L(1267.5, 932, 1504.7, 932, lw=1.6)
T(1662, 916, 'LHb Neuron', size=17); L(1545, 932, 1782, 932, lw=1.6)
venn((1328.7,1009), 26.4, UPX, (1402.7,1009), 68.5, UPN)
T(1316.6, 1008, '10', size=14.5); T(1341.5, 1008, '6', size=14.5); T(1406.5, 1008, '105', size=14.5)
L(1337.6, 1035, 1330.6, 1055, lw=1.2)
T(1331, 1061, 'p = 1.1e-11', ha='right'); T(1331, 1081, 'OR = 182.59', ha='right')
venn((1363,1160.7), 61, DNX, (1444.8,1160.7), 25.6, DNN)
T(1363, 1158, '449', size=14.5); T(1445.4, 1158, '76', size=14.5); T(1427, 1197, '4', size=14.5)
L(1437.8, 1118, 1426, 1141.7, lw=1.2)
T(1439, 1088, 'p = 2.6e-02', ha='left'); T(1439, 1109, 'OR = 3.72', ha='left')
venn((1611,1025.3), 32.8, UPX, (1694,1025.3), 53, UPN)
T(1611, 1024, '56', size=14.5); T(1694.8, 1024, '149', size=14.5); T(1642, 1060, '1', size=14.5)
T(1643.7, 960, 'p = 0.23', ha='right'); T(1643.7, 981, 'OR = 3.84', ha='right')
ov.add_patch(Circle((1633.5,1160.5), 54.5, fc=DNX, ec='black', lw=1.8))
ov.add_patch(Circle((1717.7,1185.3), 29, fc=DNN, ec='#444444', lw=1.8))
T(1633.5, 1159, '46', size=14.5); T(1718, 1184, '13', size=14.5)
for (x, y, c, s) in [(1266,1238,UPX,'Up in Experienced NURR2C'),(1266,1259,UPN,'Up in Naïve NURR2C'),
                     (1524.5,1238,DNX,'Down in Experienced NURR2C'),(1524.5,1259,DNN,'Down in Naïve NURR2C')]:
    ov.add_patch(Circle((x, y), 8.5, fc=c, ec='none')); T(x+15.5, y, s, size=12.8, ha='left')

# ------------------ Panels F, G ------------------
ov.add_patch(Rectangle((419, 911), 353, 32, fc='#CBCBCB', ec='none'))
T(596, 927, 'MHb, down in NURR2C', size=15.3)
ax = box_ax(419, 949, 772, 1208)
ax.barh(range(len(f_terms)), f_values, height=.89, color=MH)
ax.set_xlim(6.05, 0); ax.set_ylim(6.58, -.43)
for i, t in enumerate(f_terms):
    ax.text(.1, i, t, ha='right', va='center', fontsize=13)
ax.set_yticks([]); ax.set_xticks(range(7))
for s in ('top', 'left', 'right'): ax.spines[s].set_visible(False)
ax.spines['bottom'].set_linewidth(1.8)
ax.tick_params(labelsize=14, length=4, width=1.2, pad=3)
T(596, 1256, 'log(Enrichment)', size=17.8)

ov.add_patch(Rectangle((846, 1039), 353, 32, fc='#CBCBCB', ec='none'))
T(1022.6, 1055, 'LHb, up in NURR2C', size=15.3)
ax = box_ax(846, 1076.7, 1199, 1208)
ax.barh(range(len(g_terms)), g_values, height=.88, color=LH)
ax.set_xlim(0, 5.87); ax.set_ylim(3.66, -.45)
for i, t in enumerate(g_terms):
    ax.text(.09, i, t, ha='left', va='center', fontsize=13)
ax.set_yticks([]); ax.set_xticks(range(6))
for s in ('top', 'left', 'right'): ax.spines[s].set_visible(False)
ax.spines['bottom'].set_linewidth(1.8)
ax.tick_params(labelsize=14, length=4, width=1.2, pad=3)
T(1022.6, 1256, 'log(Enrichment)', size=17.8)

# ------------------ Panel H ------------------
ax = box_ax(936, 903, 1198.6, 1009)
ypos = [932-903, 981-903]
hts = [44, 44]
PRIM, SEC, OTH = '#5B1A8C', '#9C78EE', '#CBCBCB'
lp = np.array(h_left_primary); ls = np.array(h_left_secondary); lo = np.array(h_left_other)
rp = np.array(h_right_primary); rs = np.array(h_right_secondary); ro = np.array(h_right_other)
ax.barh(ypos, -lp, height=hts, color=PRIM, alpha=.85, zorder=3)
ax.barh(ypos, -ls, left=-lp, height=hts, color=SEC, zorder=2)
ax.barh(ypos, -lo, left=-(lp+ls), height=hts, color=OTH, zorder=2)
ax.barh(ypos, rp, height=hts, color=PRIM, alpha=.85, zorder=3)
ax.barh(ypos, rs, left=rp, height=hts, color=SEC, zorder=2)
ax.barh(ypos, ro, left=rp+rs, height=hts, color=OTH, zorder=2)
ax.axvline(0, color='black', lw=1.4, zorder=4)
ax.set_xlim(-481, 87); ax.set_ylim(106, 0)
ax.set_xticks([-400,-300,-200,-100,0]); ax.set_xticklabels(['400','300','200','100','0'])
ax.set_yticks([]); ax.patch.set_alpha(0)
for s in ('top', 'left', 'right'): ax.spines[s].set_visible(False)
ax.spines['bottom'].set_linewidth(1.8)
ax.tick_params(labelsize=13.5, length=4, width=1.2, pad=3)
T(930, 932, 'MHb Neuron', ha='right'); T(930, 981, 'LHb Neuron', ha='right')
for x, y, s in [(1014,932,'280'),(1117,932,'163'),(1149,932,'10'),(1173,932,'11'),
                (1138,968,'26'),(1187,968,'32'),(1144.4,989,'14'),(1177,989,'16')]:
    T(x, y, s)
T(1040.4, 967, 'NR4A2 targets', ha='right'); T(1061.5, 967, 'primary', ha='left')
T(959.4, 987, 'secondary', ha='left'); T(1060, 987, 'other', ha='left')
ov.add_patch(Circle((1050, 967), 4.5, fc=PRIM, ec='none'))
ov.add_patch(Circle((948.6, 987), 4.5, fc=SEC, ec='none'))
ov.add_patch(Circle((1049, 987), 4.5, fc=OTH, ec='none'))
T(930, 1016, 'N$_{\\mathrm{DEGs}}$', ha='right', size=12.5)
ov.annotate('', xy=(941.6, 1006), xytext=(941.6, 991), arrowprops=dict(arrowstyle='-|>', lw=1, color='black', mutation_scale=7, shrinkA=0, shrinkB=0))
ov.annotate('', xy=(1192, 991), xytext=(1192, 1006), arrowprops=dict(arrowstyle='-|>', lw=1, color='black', mutation_scale=7, shrinkA=0, shrinkB=0))

fig.savefig('out.png', dpi=100)
